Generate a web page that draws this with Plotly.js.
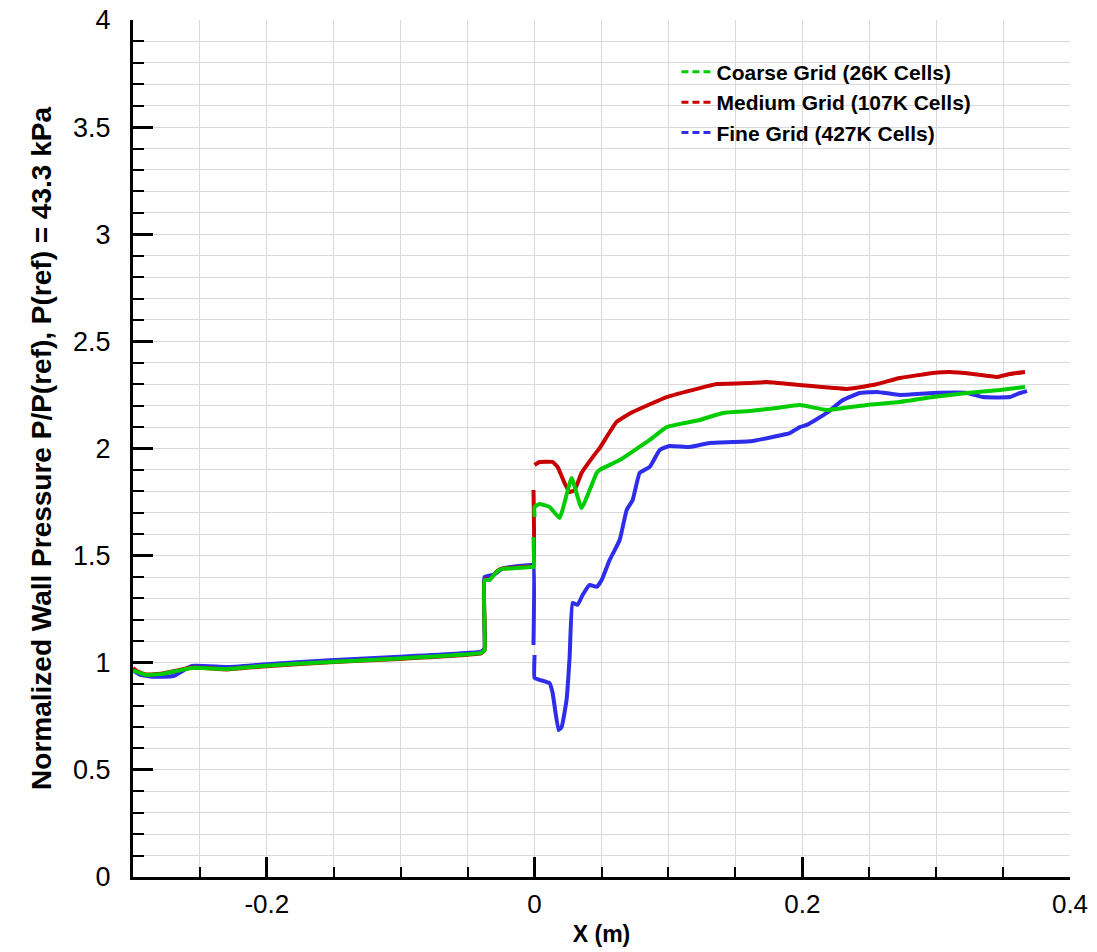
<!DOCTYPE html>
<html>
<head>
<meta charset="utf-8">
<script src="https://cdn.plot.ly/plotly-3.0.1.min.js"></script>
<style>html,body{margin:0;padding:0;background:#fff;}#chart{width:1097px;height:952px;}</style>
</head>
<body>
<div id="chart"></div>
<script>
// Coarse grid (26K cells)
var coarseX = [-0.300, -0.297, -0.290, -0.278, -0.256, -0.230, -0.203, -0.153, -0.101, -0.040, -0.0374, -0.0374, -0.0336, -0.0284, -0.0239, -0.0135, -0.0022, -0.0008, -0.0008, null,
  0.0000, 0.0000, 0.0037, 0.0112, 0.0187, 0.0277, 0.0351, 0.0464, 0.0486, 0.0636, 0.0860, 0.0987, 0.1234, 0.1406, 0.1607, 0.1809, 0.1981, 0.2183, 0.2482, 0.2729, 0.2976, 0.3230, 0.3477, 0.3664];
var coarseY = [0.965, 0.957, 0.943, 0.948, 0.976, 0.971, 0.985, 1.004, 1.020, 1.046, 1.060, 1.386, 1.386, 1.424, 1.438, 1.442, 1.447, 1.447, 1.587, null,
  1.680, 1.727, 1.741, 1.727, 1.676, 1.862, 1.722, 1.886, 1.900, 1.946, 2.040, 2.100, 2.133, 2.166, 2.175, 2.189, 2.203, 2.180, 2.203, 2.217, 2.240, 2.259, 2.273, 2.287];

// Medium grid (107K cells)
var mediumX = [-0.300, -0.297, -0.290, -0.278, -0.256, -0.230, -0.203, -0.153, -0.101, -0.040, -0.0374, -0.0374, -0.0336, -0.0284, -0.0239, -0.0135, -0.0022, -0.0008, -0.0008, null,
  0.0000, 0.0037, 0.0135, 0.0172, 0.0224, 0.0262, 0.0299, 0.0351, 0.0434, 0.0486, 0.0613, 0.0733, 0.0987, 0.1234, 0.1361, 0.1607, 0.1735, 0.1981, 0.2333, 0.2527, 0.2729, 0.2976, 0.3103, 0.3275, 0.3454, 0.3551, 0.3664];
var mediumY = [0.975, 0.960, 0.945, 0.950, 0.978, 0.969, 0.983, 1.002, 1.018, 1.044, 1.058, 1.390, 1.388, 1.426, 1.440, 1.444, 1.449, 1.449, 1.806, null,
  1.923, 1.937, 1.937, 1.914, 1.839, 1.797, 1.806, 1.886, 1.960, 2.002, 2.124, 2.170, 2.240, 2.282, 2.301, 2.306, 2.310, 2.296, 2.278, 2.296, 2.329, 2.352, 2.357, 2.348, 2.334, 2.348, 2.357];

// Fine grid (427K cells)
var fineX = [-0.300, -0.295, -0.285, -0.270, -0.256, -0.230, -0.203, -0.153, -0.101, -0.040, -0.0374, -0.0374, -0.0300, -0.0239, -0.0120, -0.0020, -0.0008, -0.0008, null,
  0.0000, 0.0000, 0.0037, 0.0112, 0.0135, 0.0179, 0.0202, 0.0239, 0.0262, 0.0284, 0.0321, 0.0359, 0.0411, 0.0464, 0.0501, 0.0561, 0.0636, 0.0688, 0.0733, 0.0785, 0.0860, 0.0935, 0.1009, 0.1159, 0.1308, 0.1480, 0.1630, 0.1779, 0.1907, 0.1981, 0.2034, 0.2183, 0.2303, 0.2430, 0.2557, 0.2729, 0.2976, 0.3230, 0.3350, 0.3551, 0.3626, 0.3679];
var fineY = [0.965, 0.945, 0.935, 0.938, 0.985, 0.980, 0.992, 1.012, 1.028, 1.052, 1.066, 1.400, 1.412, 1.440, 1.452, 1.456, 1.456, 1.083, null,
  1.036, 0.929, 0.920, 0.905, 0.859, 0.686, 0.700, 0.826, 1.027, 1.279, 1.270, 1.316, 1.363, 1.354, 1.386, 1.480, 1.573, 1.713, 1.760, 1.886, 1.914, 1.993, 2.012, 2.007, 2.026, 2.030, 2.035, 2.054, 2.072, 2.100, 2.110, 2.166, 2.226, 2.259, 2.264, 2.250, 2.259, 2.259, 2.240, 2.240, 2.259, 2.268];

var seriesNames = ['Coarse Grid (26K Cells)', 'Medium Grid (107K Cells)', 'Fine Grid (427K Cells)'];
var xTickVals = [-0.2, 0, 0.2, 0.4];
var xTickText = ['-0.2', '0', '0.2', '0.4'];
var yTickVals = [0, 0.5, 1, 1.5, 2, 2.5, 3, 3.5, 4];
var yTickText = ['0', '0.5', '1', '1.5', '2', '2.5', '3', '3.5', '4'];

var colGreen = 'rgb(0,204,0)', colRed = 'rgb(200,0,0)', colBlue = 'rgb(45,45,235)';
var FONT = 'Liberation Sans, Arial, sans-serif';
var SMOOTH = 0.35;

var traces = [
  {x: fineX, y: fineY, mode: 'lines', line: {color: colBlue, width: 4, shape: 'spline', smoothing: SMOOTH}, showlegend: false, connectgaps: false},
  {x: mediumX, y: mediumY, mode: 'lines', line: {color: colRed, width: 4, shape: 'spline', smoothing: SMOOTH}, showlegend: false, connectgaps: false},
  {x: coarseX, y: coarseY, mode: 'lines', line: {color: colGreen, width: 4, shape: 'spline', smoothing: SMOOTH}, showlegend: false, connectgaps: false},
  {x: [null], y: [null], mode: 'lines', name: seriesNames[0], line: {color: colGreen, width: 3, dash: '7px,4px'}},
  {x: [null], y: [null], mode: 'lines', name: seriesNames[1], line: {color: colRed, width: 3, dash: '7px,4px'}},
  {x: [null], y: [null], mode: 'lines', name: seriesNames[2], line: {color: colBlue, width: 3, dash: '7px,4px'}}
];

var layout = {
  width: 1097, height: 952,
  margin: {l: 133, r: 27, t: 20, b: 75},
  paper_bgcolor: '#fff', plot_bgcolor: '#fff',
  font: {family: FONT, color: '#000'},
  showlegend: true,
  legend: {x: 0.58, y: 0.963, xanchor: 'left', yanchor: 'top', bgcolor: 'rgba(255,255,255,0)',
    font: {family: FONT, size: 21, color: '#000', weight: 'bold'},
    tracegroupgap: 0, itemwidth: 30},
  xaxis: {
    range: [-0.3, 0.4], tickmode: 'array', tickvals: xTickVals, ticktext: xTickText,
    ticks: 'inside', ticklen: 20, tickwidth: 3, tickcolor: '#000',
    showline: true, linewidth: 3, linecolor: '#000', zeroline: false,
    showgrid: true, gridcolor: '#dadada', gridwidth: 1,
    tickfont: {size: 26, family: FONT},
    ticklabelstandoff: 2,
    minor: {dtick: 0.05, tick0: 0, ticks: 'inside', ticklen: 10, tickwidth: 2, tickcolor: '#000', showgrid: true, gridcolor: '#dadada', gridwidth: 1},
    title: {text: 'X (m)', font: {size: 23, weight: 'bold', family: FONT}, standoff: 8}
  },
  yaxis: {
    range: [0, 4], tickmode: 'array', tickvals: yTickVals, ticktext: yTickText,
    ticks: 'inside', ticklen: 20, tickwidth: 3, tickcolor: '#000',
    showline: true, linewidth: 3, linecolor: '#000', zeroline: false,
    showgrid: true, gridcolor: '#dadada', gridwidth: 1,
    tickfont: {size: 27, family: FONT},
    ticklabelstandoff: 14,
    minor: {dtick: 0.1, tick0: 0, ticks: 'inside', ticklen: 11, tickwidth: 2, tickcolor: '#000', showgrid: true, gridcolor: '#dadada', gridwidth: 1},
    title: {text: 'Normalized Wall Pressure P/P(ref), P(ref) = 43.3 kPa', font: {size: 28, weight: 'bold', family: FONT}, standoff: 14}
  }
};

Plotly.newPlot('chart', traces, layout, {displayModeBar: false, staticPlot: true});
</script>
</body>
</html>
